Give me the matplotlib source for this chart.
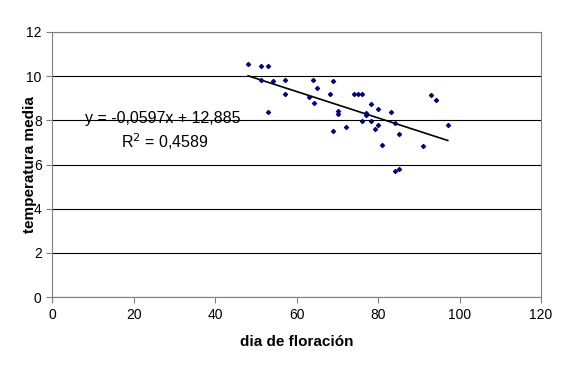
import matplotlib.pyplot as plt
import numpy as np

plt.rcParams['font.family'] = ['Liberation Sans', 'DejaVu Sans']

# dia de floracion vs temperatura media
dias = [48.1, 51.2, 53.1, 51.2, 54.1, 57.2, 57.2, 53.1, 64.0, 65.1,
        63.1, 64.2, 68.1, 69.0, 69.0, 70.1, 70.1, 72.1, 74.1, 75.1,
        76.1, 76.1, 77.1, 77.1, 78.2, 78.2, 79.2, 80.1, 80.1, 81.0,
        83.1, 84.1, 84.1, 85.1, 85.1, 91.1, 93.1, 94.1, 97.1]
temp = [10.56, 10.48, 10.48, 9.82, 9.76, 9.82, 9.17, 8.39, 9.82, 9.47,
        9.05, 8.79, 9.20, 9.76, 7.51, 8.42, 8.27, 7.69, 9.20, 9.20,
        9.17, 7.99, 8.34, 8.24, 8.76, 7.96, 7.63, 8.52, 7.77, 6.88,
        8.39, 7.89, 5.69, 5.82, 7.39, 6.83, 9.14, 8.94, 7.80]

pendiente = -0.0597
ordenada = 12.885
r2 = 0.4589

fig = plt.figure(figsize=(5.66, 3.71), dpi=100)
ax = fig.add_axes([0.092, 0.199, 0.864, 0.715])

ax.set_xlim(0, 120)
ax.set_ylim(0, 12)
ax.set_xticks(range(0, 121, 20))
ax.set_yticks(range(0, 13, 2))
ax.grid(axis='y', color='black', linewidth=0.8)
ax.set_axisbelow(True)

for s in ax.spines.values():
    s.set_color('#808080')
ax.tick_params(colors='#808080', labelcolor='black', labelsize=10, length=4)

ax.scatter(dias, temp, marker='D', s=4, color='#000080', zorder=3)

xs = np.array([min(dias), max(dias)])
ax.plot(xs, pendiente * xs + ordenada, color='black', linewidth=1.2, zorder=2)

ax.text(8, 8.1, 'y = -0,0597x + 12,885', fontsize=11.5, va='center')
ax.text(17, 7.05, 'R$^{2}$ = 0,4589', fontsize=11.5, va='center')

ax.set_xlabel('dia de floración', fontsize=11, fontweight='bold', labelpad=10)
ax.set_ylabel('temperatura media', fontsize=11, fontweight='bold', labelpad=-8)

fig.savefig('out.png', dpi=100)
